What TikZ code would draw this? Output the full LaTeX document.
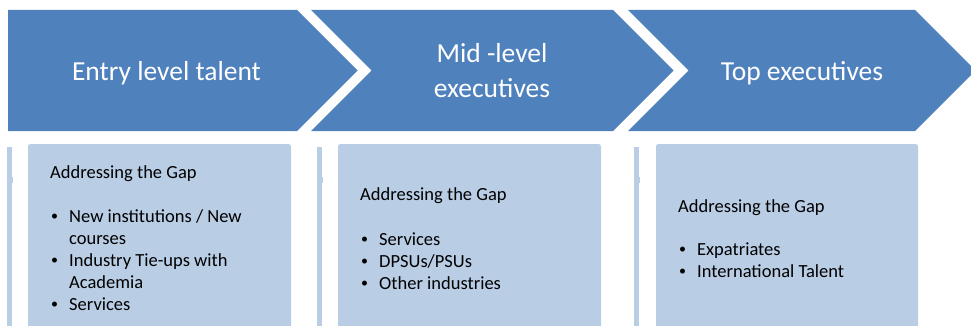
\documentclass[tikz,border=0pt]{standalone}
\usepackage{fontspec}
\setmainfont{Carlito}
\definecolor{chevblue}{HTML}{4F81BD}
\definecolor{boxblue}{HTML}{B9CDE5}
\newcommand{\itemdot}{\raisebox{1.2pt}{\fontsize{14}{14}\selectfont\textbullet}}
\begin{document}
\begin{tikzpicture}[x=1pt,y=-1pt,
  chevron/.style={fill=chevblue},
  panel/.style={fill=boxblue, rounded corners=2.5pt},
  edgebar/.style={fill=boxblue},
  title/.style={text=white, font=\fontsize{27.5}{35}\selectfont, inner sep=0pt, anchor=base},
  heading/.style={text=black, font=\fontsize{18.5}{22}\selectfont, inner sep=0pt, anchor=base west},
  items/.style={text=black, font=\fontsize{18.5}{22}\selectfont, inner sep=0pt, anchor=base west}]
\useasboundingbox (0,0) rectangle (971,326);
\begin{scope}
\clip (0,0) rectangle (971,326);

% stage chevrons
\path[chevron] (8,10) -- (297,10) -- (357.5,70.5) -- (297,131) -- (8,131) -- cycle;
\path[chevron] (311,10) -- (613,10) -- (673.5,70.5) -- (613,131) -- (311,131) -- (371.5,70.5) -- cycle;
\path[chevron] (628,10) -- (915,10) -- (975.5,70.5) -- (915,131) -- (628,131) -- (688.5,70.5) -- cycle;

% thin strips left of each panel
\foreach \bx in {7,317,634} {
  \path[edgebar] (\bx,147) rectangle ++(5,190);
  \path[edgebar] (\bx+5,177) rectangle ++(1.3,6);
}

% panels
\path[panel] (28,144) rectangle (291,345);
\path[panel] (338,144) rectangle (601,345);
\path[panel] (656,144) rectangle (918,345);
\end{scope}

% stage titles
\node[title] (t1) at (166.5,81) {Entry level talent};
\node[title] (t2a) at (492,63) {Mid -level};
\node[title] (t2b) at (492,98) {executives};
\node[title] (t3) at (802,81) {Top executives};

% panel texts
\node[heading] (h1) at (50,178) {Addressing the Gap};
\node[items] (l1) at (51,222) {\begin{tabular}[t]{@{}p{18pt}@{}l@{}}
\itemdot & New institutions / New\\
 & courses\\
\itemdot & Industry Tie-ups with\\
 & Academia\\
\itemdot & Services
\end{tabular}};

\node[heading] (h2) at (360,200) {Addressing the Gap};
\node[items] (l2) at (361,245) {\begin{tabular}[t]{@{}p{18pt}@{}l@{}}
\itemdot & Services\\
\itemdot & DPSUs/PSUs\\
\itemdot & Other industries
\end{tabular}};

\node[heading] (h3) at (678,212) {Addressing the Gap};
\node[items] (l3) at (679,255) {\begin{tabular}[t]{@{}p{18pt}@{}l@{}}
\itemdot & Expatriates\\
\itemdot & International Talent
\end{tabular}};
\end{tikzpicture}
\end{document}
